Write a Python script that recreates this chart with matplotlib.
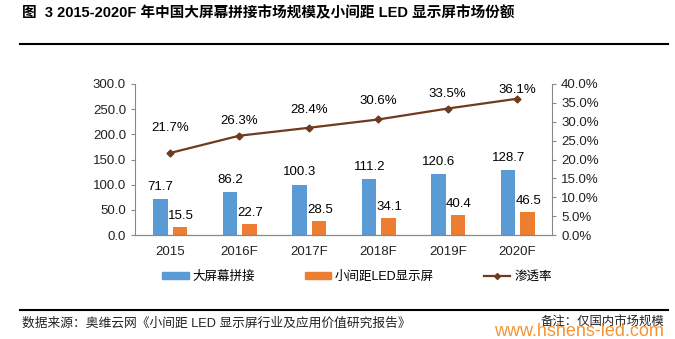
import matplotlib.pyplot as plt
from matplotlib.lines import Line2D
from matplotlib.patches import Patch
import numpy as np

plt.rcParams['font.family'] = ['Liberation Sans', 'Noto Sans CJK SC', 'DejaVu Sans']

years = ["2015", "2016F", "2017F", "2018F", "2019F", "2020F"]
splice = [71.7, 86.2, 100.3, 111.2, 120.6, 128.7]
led = [15.5, 22.7, 28.5, 34.1, 40.4, 46.5]
rate = [21.7, 26.3, 28.4, 30.6, 33.5, 36.1]

# label lift above each line marker, in pixels (layout only)
rate_lift = [25, 15, 18, 18, 15, 9]

blue = "#5b9bd5"
orange = "#ed7d31"
brown = "#6e3b1c"
grey = "#888888"

fig = plt.figure(figsize=(6.75, 3.39), dpi=100)
ax = fig.add_axes([135 / 675, 1 - 235 / 339, (552 - 135) / 675, (235 - 84) / 339])
ax2 = ax.twinx()

x = np.arange(len(years))
w = 0.21
ax.bar(x - 0.135, splice, w, color=blue, zorder=2)
ax.bar(x + 0.145, led, w, color=orange, zorder=2)
for i in range(len(years)):
    ax.text(x[i] - 0.13, splice[i] + 12, f"{splice[i]:.1f}", ha="center", va="bottom", fontsize=9.5)
    ax.text(x[i] + 0.16, led[i] + 10, f"{led[i]:.1f}", ha="center", va="bottom", fontsize=9.5)

ax2.plot(x, rate, color=brown, lw=1.6, marker="D", ms=3.5, zorder=3)
for i in range(len(years)):
    ax2.annotate(f"{rate[i]:.1f}%", (x[i], rate[i]), xytext=(0, rate_lift[i] * 0.72),
                 textcoords="offset points", ha="center", va="center", fontsize=9.5)

ax.set_xlim(-0.5, len(years) - 0.5)
ax.set_ylim(0, 300)
ax.set_yticks(np.arange(0, 301, 50))
ax.set_yticklabels([f"{v:.1f}" for v in np.arange(0, 301, 50)])
ax2.set_ylim(0, 40)
ax2.set_yticks(np.arange(0, 41, 5))
ax2.set_yticklabels([f"{v:.1f}%" for v in np.arange(0, 41, 5)])
ax.set_xticks(x)
ax.set_xticklabels(years)

for a in (ax, ax2):
    a.spines["top"].set_visible(False)
    for s in ("left", "right", "bottom"):
        a.spines[s].set_color(grey)
    a.tick_params(labelsize=9.5, colors=grey, labelcolor="#222222", length=3)
ax.spines["right"].set_visible(False)
ax2.spines["left"].set_visible(False)
ax.tick_params(axis="x", length=0, pad=8)

handles = [
    Patch(color=blue, label="大屏幕拼接"),
    Patch(color=orange, label="小间距LED显示屏"),
    Line2D([0], [0], color=brown, lw=1.6, marker="D", ms=3, label="渗透率"),
]
fig.legend(handles=handles, loc="center", bbox_to_anchor=(357 / 675, 1 - 277 / 339), ncol=3,
           frameon=False, fontsize=9, handlelength=2.1, handleheight=0.45,
           columnspacing=4.0, handletextpad=0.3)

fig.text(22 / 675, 1 - 13 / 339, "图  3 2015-2020F 年中国大屏幕拼接市场规模及小间距 LED 显示屏市场份额",
         fontsize=10.5, fontweight="bold", va="center", ha="left")
fig.add_artist(Line2D([20 / 675, 668 / 675], [1 - 44 / 339, 1 - 44 / 339], color="black", lw=1.5))
fig.add_artist(Line2D([20 / 675, 668 / 675], [1 - 310 / 339, 1 - 310 / 339], color="black", lw=1.5))
fig.text(22 / 675, 1 - 324 / 339, "数据来源：奥维云网《小间距 LED 显示屏行业及应用价值研究报告》",
         fontsize=9.2, va="center", ha="left", color="#222222")
fig.text(664 / 675, 1 - 323 / 339, "备注：仅国内市场规模",
         fontsize=8.9, va="center", ha="right", color="#222222")
fig.text(664 / 675, 1 - 331 / 339, "www.hshens-led.com",
         fontsize=13, va="center", ha="right", color="#f28a1e", alpha=0.9)

fig.savefig("out.png", dpi=100)
